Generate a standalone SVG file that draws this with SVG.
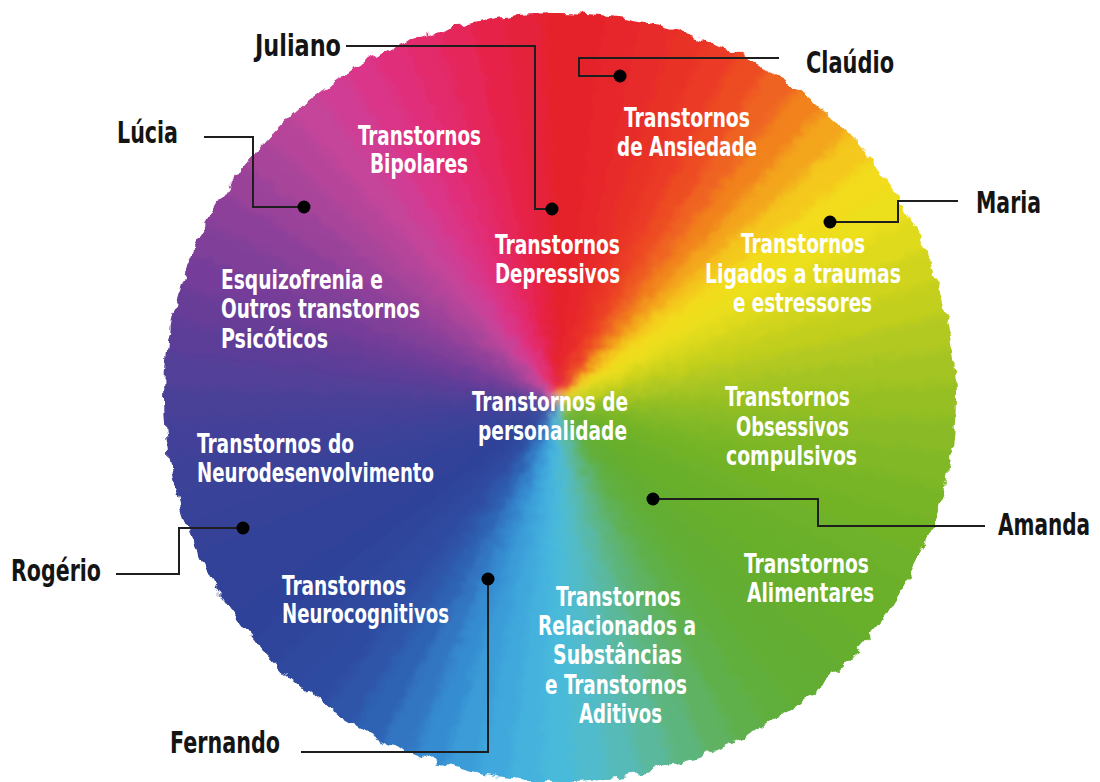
<svg xmlns="http://www.w3.org/2000/svg" xmlns:xlink="http://www.w3.org/1999/xlink" width="1100" height="782" viewBox="0 0 1100 782">
<defs>
<style>
.name{font-family:'Liberation Sans Narrow','DejaVu Sans Condensed','Liberation Sans',sans-serif;font-stretch:condensed;font-weight:bold;font-size:31px;fill:#141414}
.lbl{font-family:'Liberation Sans Narrow','DejaVu Sans Condensed','Liberation Sans',sans-serif;font-stretch:condensed;font-weight:bold;font-size:27px;fill:#ffffff}
.con{fill:none;stroke:#1e1e1e;stroke-width:2}
.dot{fill:#000}
</style>
<path id="w" d="M0,0 L-21,-440 L21,-440 Z"/>
<clipPath id="clip"><ellipse cx="560" cy="397" rx="396" ry="384"/></clipPath>
<filter id="blur" x="-10%" y="-10%" width="120%" height="120%"><feGaussianBlur stdDeviation="5"/></filter>
<filter id="rough" filterUnits="userSpaceOnUse" x="100" y="-30" width="920" height="840">
<feTurbulence type="fractalNoise" baseFrequency="0.08" numOctaves="2" seed="7" result="n"/>
<feDisplacementMap in="SourceGraphic" in2="n" scale="12" xChannelSelector="R" yChannelSelector="G"/>
</filter>
</defs>
<rect width="1100" height="782" fill="#ffffff"/>
<g id="wheel" filter="url(#rough)">
<g clip-path="url(#clip)">
<g filter="url(#blur)" transform="translate(557,403)">
<use xlink:href="#w" transform="rotate(0)" fill="#e52329"/>
<use xlink:href="#w" transform="rotate(5)" fill="#e5232a"/>
<use xlink:href="#w" transform="rotate(10)" fill="#e6262a"/>
<use xlink:href="#w" transform="rotate(15)" fill="#e72a29"/>
<use xlink:href="#w" transform="rotate(20)" fill="#e93028"/>
<use xlink:href="#w" transform="rotate(25)" fill="#eb3a26"/>
<use xlink:href="#w" transform="rotate(30)" fill="#ed4b23"/>
<use xlink:href="#w" transform="rotate(35)" fill="#ef6420"/>
<use xlink:href="#w" transform="rotate(40)" fill="#f1821e"/>
<use xlink:href="#w" transform="rotate(45)" fill="#f3a51c"/>
<use xlink:href="#w" transform="rotate(50)" fill="#f4c81b"/>
<use xlink:href="#w" transform="rotate(55)" fill="#f2dc1b"/>
<use xlink:href="#w" transform="rotate(60)" fill="#ecdf1c"/>
<use xlink:href="#w" transform="rotate(65)" fill="#e0da1d"/>
<use xlink:href="#w" transform="rotate(70)" fill="#d0d41e"/>
<use xlink:href="#w" transform="rotate(75)" fill="#c2cf1f"/>
<use xlink:href="#w" transform="rotate(80)" fill="#b2c920"/>
<use xlink:href="#w" transform="rotate(85)" fill="#a3c422"/>
<use xlink:href="#w" transform="rotate(90)" fill="#95bf23"/>
<use xlink:href="#w" transform="rotate(95)" fill="#8abb25"/>
<use xlink:href="#w" transform="rotate(100)" fill="#80b826"/>
<use xlink:href="#w" transform="rotate(105)" fill="#78b527"/>
<use xlink:href="#w" transform="rotate(110)" fill="#72b328"/>
<use xlink:href="#w" transform="rotate(115)" fill="#6eb129"/>
<use xlink:href="#w" transform="rotate(120)" fill="#6ab02a"/>
<use xlink:href="#w" transform="rotate(125)" fill="#68af2b"/>
<use xlink:href="#w" transform="rotate(130)" fill="#66ae2d"/>
<use xlink:href="#w" transform="rotate(135)" fill="#64ae30"/>
<use xlink:href="#w" transform="rotate(140)" fill="#62ae35"/>
<use xlink:href="#w" transform="rotate(145)" fill="#60af3e"/>
<use xlink:href="#w" transform="rotate(150)" fill="#5fb04c"/>
<use xlink:href="#w" transform="rotate(155)" fill="#5eb262"/>
<use xlink:href="#w" transform="rotate(160)" fill="#5db57e"/>
<use xlink:href="#w" transform="rotate(165)" fill="#5ab89c"/>
<use xlink:href="#w" transform="rotate(170)" fill="#56bab8"/>
<use xlink:href="#w" transform="rotate(175)" fill="#50bbcc"/>
<use xlink:href="#w" transform="rotate(180)" fill="#4abada"/>
<use xlink:href="#w" transform="rotate(185)" fill="#44b2de"/>
<use xlink:href="#w" transform="rotate(190)" fill="#3fa8dc"/>
<use xlink:href="#w" transform="rotate(195)" fill="#3a9cd8"/>
<use xlink:href="#w" transform="rotate(200)" fill="#368cd0"/>
<use xlink:href="#w" transform="rotate(205)" fill="#3276c2"/>
<use xlink:href="#w" transform="rotate(210)" fill="#2f62b2"/>
<use xlink:href="#w" transform="rotate(215)" fill="#2e55a8"/>
<use xlink:href="#w" transform="rotate(220)" fill="#2e4ca2"/>
<use xlink:href="#w" transform="rotate(225)" fill="#2e489e"/>
<use xlink:href="#w" transform="rotate(230)" fill="#2e459b"/>
<use xlink:href="#w" transform="rotate(235)" fill="#2f4399"/>
<use xlink:href="#w" transform="rotate(240)" fill="#304298"/>
<use xlink:href="#w" transform="rotate(245)" fill="#324298"/>
<use xlink:href="#w" transform="rotate(250)" fill="#344298"/>
<use xlink:href="#w" transform="rotate(255)" fill="#384298"/>
<use xlink:href="#w" transform="rotate(260)" fill="#3c4298"/>
<use xlink:href="#w" transform="rotate(265)" fill="#424198"/>
<use xlink:href="#w" transform="rotate(270)" fill="#494098"/>
<use xlink:href="#w" transform="rotate(275)" fill="#523f98"/>
<use xlink:href="#w" transform="rotate(280)" fill="#5c3e98"/>
<use xlink:href="#w" transform="rotate(285)" fill="#683e98"/>
<use xlink:href="#w" transform="rotate(290)" fill="#743e99"/>
<use xlink:href="#w" transform="rotate(295)" fill="#803f99"/>
<use xlink:href="#w" transform="rotate(300)" fill="#8c409a"/>
<use xlink:href="#w" transform="rotate(305)" fill="#9a429a"/>
<use xlink:href="#w" transform="rotate(310)" fill="#a8449a"/>
<use xlink:href="#w" transform="rotate(315)" fill="#b6459a"/>
<use xlink:href="#w" transform="rotate(320)" fill="#c4449a"/>
<use xlink:href="#w" transform="rotate(325)" fill="#d03e94"/>
<use xlink:href="#w" transform="rotate(330)" fill="#da3688"/>
<use xlink:href="#w" transform="rotate(335)" fill="#e02f7a"/>
<use xlink:href="#w" transform="rotate(340)" fill="#e32a6a"/>
<use xlink:href="#w" transform="rotate(345)" fill="#e5265a"/>
<use xlink:href="#w" transform="rotate(350)" fill="#e6244a"/>
<use xlink:href="#w" transform="rotate(355)" fill="#e5233a"/>
</g>
</g>
</g>
<g id="connectors">
<path class="con" d="M346,46 H535 V209 H551"/>
<path class="con" d="M779,58 H579 V76 H619"/>
<path class="con" d="M204,137 H253 V207 H303"/>
<path class="con" d="M958,201 H898 V222 H831"/>
<path class="con" d="M985,526 H818 V499 H653"/>
<path class="con" d="M116,574 H179 V528 H242"/>
<path class="con" d="M301,752 H488 V579"/>
<circle class="dot" cx="552" cy="209" r="6.5"/>
<circle class="dot" cx="620" cy="76" r="6.5"/>
<circle class="dot" cx="304" cy="207" r="6.5"/>
<circle class="dot" cx="830" cy="222" r="6.5"/>
<circle class="dot" cx="653" cy="499" r="6.5"/>
<circle class="dot" cx="243" cy="528" r="6.5"/>
<circle class="dot" cx="488" cy="579" r="6.5"/>
</g>
<g id="names">
<text id="juliano" class="name" x="255" y="56" textLength="86" lengthAdjust="spacingAndGlyphs">Juliano</text>
<text id="claudio" class="name" x="806" y="73" textLength="88" lengthAdjust="spacingAndGlyphs">Claúdio</text>
<text id="lucia" class="name" x="117" y="143" textLength="61" lengthAdjust="spacingAndGlyphs">Lúcia</text>
<text id="maria" class="name" x="976" y="213" textLength="65" lengthAdjust="spacingAndGlyphs">Maria</text>
<text id="amanda" class="name" transform="translate(998,535) scale(0.72,1)" x="0" y="0" textLength="128" lengthAdjust="spacingAndGlyphs">Amanda</text>
<text id="rogerio" class="name" x="11" y="581" textLength="90" lengthAdjust="spacingAndGlyphs">Rogério</text>
<text id="fernando" class="name" x="170" y="753" textLength="110" lengthAdjust="spacingAndGlyphs">Fernando</text>
</g>
<g id="ansiedade">
<text class="lbl" x="624" y="127" textLength="126" lengthAdjust="spacingAndGlyphs">Transtornos</text>
<text class="lbl" x="617" y="156" textLength="140" lengthAdjust="spacingAndGlyphs">de Ansiedade</text>
</g>
<g id="bipolares">
<text class="lbl" x="358" y="145" textLength="123" lengthAdjust="spacingAndGlyphs">Transtornos</text>
<text class="lbl" x="370" y="173" textLength="98" lengthAdjust="spacingAndGlyphs">Bipolares</text>
</g>
<g id="depressivos">
<text class="lbl" x="495" y="254" textLength="125" lengthAdjust="spacingAndGlyphs">Transtornos</text>
<text class="lbl" x="495" y="283" textLength="125" lengthAdjust="spacingAndGlyphs">Depressivos</text>
</g>
<g id="traumas">
<text class="lbl" x="741" y="253" textLength="124" lengthAdjust="spacingAndGlyphs">Transtornos</text>
<text class="lbl" x="705" y="283" textLength="196" lengthAdjust="spacingAndGlyphs">Ligados a traumas</text>
<text class="lbl" x="733" y="312" textLength="139" lengthAdjust="spacingAndGlyphs">e estressores</text>
</g>
<g id="esquizofrenia">
<text class="lbl" x="221" y="289" textLength="162" lengthAdjust="spacingAndGlyphs">Esquizofrenia e</text>
<text class="lbl" x="221" y="318" textLength="199" lengthAdjust="spacingAndGlyphs">Outros transtornos</text>
<text class="lbl" x="221" y="348" textLength="107" lengthAdjust="spacingAndGlyphs">Psicóticos</text>
</g>
<g id="personalidade">
<text class="lbl" x="472" y="411" textLength="156" lengthAdjust="spacingAndGlyphs">Transtornos de</text>
<text class="lbl" x="478" y="440" textLength="149" lengthAdjust="spacingAndGlyphs">personalidade</text>
</g>
<g id="obsessivos">
<text class="lbl" x="725" y="406" textLength="125" lengthAdjust="spacingAndGlyphs">Transtornos</text>
<text class="lbl" x="736" y="436" textLength="113" lengthAdjust="spacingAndGlyphs">Obsessivos</text>
<text class="lbl" x="726" y="465" textLength="131" lengthAdjust="spacingAndGlyphs">compulsivos</text>
</g>
<g id="neurodesenvolvimento">
<text class="lbl" x="197" y="453" textLength="157" lengthAdjust="spacingAndGlyphs">Transtornos do</text>
<text class="lbl" x="197" y="482" textLength="237" lengthAdjust="spacingAndGlyphs">Neurodesenvolvimento</text>
</g>
<g id="alimentares">
<text class="lbl" x="744" y="573" textLength="125" lengthAdjust="spacingAndGlyphs">Transtornos</text>
<text class="lbl" x="747" y="602" textLength="127" lengthAdjust="spacingAndGlyphs">Alimentares</text>
</g>
<g id="neurocognitivos">
<text class="lbl" x="282" y="595" textLength="124" lengthAdjust="spacingAndGlyphs">Transtornos</text>
<text class="lbl" x="282" y="623" textLength="167" lengthAdjust="spacingAndGlyphs">Neurocognitivos</text>
</g>
<g id="substancias">
<text class="lbl" x="556" y="606" textLength="125" lengthAdjust="spacingAndGlyphs">Transtornos</text>
<text class="lbl" x="538" y="635" textLength="158" lengthAdjust="spacingAndGlyphs">Relacionados a</text>
<text class="lbl" x="553" y="664" textLength="129" lengthAdjust="spacingAndGlyphs">Substâncias</text>
<text class="lbl" x="545" y="694" textLength="142" lengthAdjust="spacingAndGlyphs">e Transtornos</text>
<text class="lbl" x="579" y="723" textLength="83" lengthAdjust="spacingAndGlyphs">Aditivos</text>
</g>
</svg>
